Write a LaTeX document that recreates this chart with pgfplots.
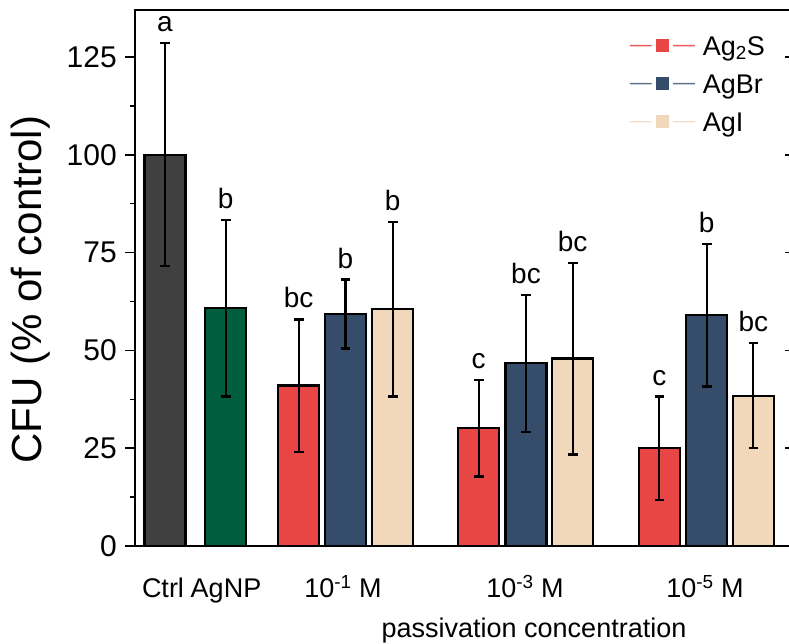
\documentclass[border=0pt]{standalone}
\usepackage{pgfplots}
\pgfplotsset{compat=1.18}
\usepackage{pgfplotstable}
\usepackage{fontspec}
\setmainfont{Liberation Sans}
\definecolor{cgray}{RGB}{64,64,64}
\definecolor{cgreen}{RGB}{0,94,62}
\definecolor{cred}{RGB}{232,69,69}
\definecolor{cnavy}{RGB}{53,77,107}
\definecolor{cbeige}{RGB}{242,216,186}
\definecolor{lred}{RGB}{236,90,90}
\definecolor{lnavy}{RGB}{95,115,140}
\definecolor{lbeige}{RGB}{244,222,198}

\pgfplotstableread{
x y e
298.7 41.0 16.9
478.7 30.1 12.3
659.3 25.0 13.2
}\agS
\pgfplotstableread{
x y e
345.5 59.3 8.8
526.0 46.7 17.5
706.7 59.0 18.2
}\agBr
\pgfplotstableread{
x y e
392.7 60.5 22.3
572.7 47.9 24.5
753.3 38.4 13.4
}\agI
\pgfplotstableread{
x y e
165.0 100.0 28.5
}\ctrl
\pgfplotstableread{
x y e
225.7 60.8 22.6
}\agnp
\pgfplotstableread{
x y lab
165.0 128.5 a
225.7 83.4 b
298.7 57.9 bc
345.5 68.1 b
392.7 82.8 b
478.7 42.4 c
526.0 64.2 bc
572.7 72.4 bc
659.3 38.2 c
706.7 77.2 b
753.3 51.8 bc
}\letters

\pgfplotsset{
  mybar/.style={ybar, bar width=41, bar shift=0pt, fill=#1, draw=black, line width=2.3bp,
    error bars/.cd, y dir=both, y explicit,
    error bar style={line width=2.3bp, black},
    error mark options={rotate=90, mark size=4.8bp, line width=2.3bp, black},
    /pgfplots/.cd},
}

\begin{document}
\begin{tikzpicture}
\useasboundingbox (0bp,0bp) rectangle (789bp,644bp);
\clip (0bp,0bp) rectangle (789bp,644bp);
\begin{axis}[
  at={(135bp,98bp)}, anchor=south west,
  scale only axis, width=659bp, height=536bp,
  xmin=135, xmax=794, ymin=0, ymax=137,
  axis line style={line width=2bp, black},
  ytick={0,25,...,125}, minor y tick num=1,
  ytick pos=left, tick align=outside,
  major tick length=10bp, minor tick length=5bp,
  every tick/.append style={black, line width=1.5bp},
  xtick={163,226,343,525,705},
  xticklabels={Ctrl, AgNP, 10\textsuperscript{-1} M, 10\textsuperscript{-3} M, 10\textsuperscript{-5} M},
  x tick style={draw=none},
  xticklabel style={font=\fontsize{27bp}{30bp}\selectfont, anchor=base, inner sep=0pt, yshift=-41bp},
  yticklabel style={font=\fontsize{30bp}{32bp}\selectfont, anchor=east, inner sep=0pt, xshift=-8bp},
  /pgf/number format/assume math mode=true,
  ylabel={CFU (\% of control)},
  every axis y label/.style={at={(rel axis cs:0,0.478)}, xshift=-104bp, rotate=90, anchor=center, font=\fontsize{42bp}{46bp}\selectfont},
  xlabel={passivation concentration},
  every axis x label/.style={at={(rel axis cs:0.6055,0)}, anchor=base, yshift=-91bp, font=\fontsize{27bp}{30bp}\selectfont},
  legend style={draw=none, fill=none, inner sep=0pt, outer sep=0pt, row sep=18bp, column sep=8bp,
    nodes={inner sep=0pt, anchor=base west}, font=\fontsize{27bp}{30bp}\selectfont,
    at={(rel axis cs:0.751,0.951)}, anchor=north west},
  legend cell align=left,
]
\addlegendimage{legend image code/.code={
    \path[fill=lred, draw=none] (0bp,8.8bp) rectangle (21.7bp,10.2bp) (43.3bp,8.8bp) rectangle (65bp,10.2bp);
    \path[fill=cred, draw=none] (26bp,2.9bp) rectangle (39.3bp,16.1bp);}}
\addlegendentry{Ag\textsubscript{2}S}
\addlegendimage{legend image code/.code={
    \path[fill=lnavy, draw=none] (0bp,8.8bp) rectangle (21.7bp,10.2bp) (43.3bp,8.8bp) rectangle (65bp,10.2bp);
    \path[fill=cnavy, draw=none] (26bp,2.9bp) rectangle (39.3bp,16.1bp);}}
\addlegendentry{AgBr}
\addlegendimage{legend image code/.code={
    \path[fill=lbeige, draw=none] (0bp,8.8bp) rectangle (21.7bp,10.2bp) (43.3bp,8.8bp) rectangle (65bp,10.2bp);
    \path[fill=cbeige, draw=none] (26bp,2.9bp) rectangle (39.3bp,16.1bp);}}
\addlegendentry{AgI}
\addplot[forget plot, mybar=cred] table[x=x, y=y, y error=e] {\agS};
\addplot[forget plot, mybar=cnavy] table[x=x, y=y, y error=e] {\agBr};
\addplot[forget plot, mybar=cbeige] table[x=x, y=y, y error=e] {\agI};
\addplot[forget plot, mybar=cgray] table[x=x, y=y, y error=e] {\ctrl};
\addplot[forget plot, mybar=cgreen] table[x=x, y=y, y error=e] {\agnp};
\addplot[only marks, mark=none, forget plot, nodes near coords, point meta=explicit symbolic,
  nodes near coords style={anchor=base, yshift=11.5bp, inner sep=0pt, font=\fontsize{28bp}{30bp}\selectfont}]
  table[x=x, y=y, meta=lab] {\letters};
\end{axis}
\begin{axis}[
  at={(135bp,98bp)}, anchor=south west,
  scale only axis, width=659bp, height=536bp,
  xmin=135, xmax=794, ymin=0, ymax=137,
  axis x line=none, axis y line*=right,
  axis line style={line width=2bp, black},
  ytick={25,50,...,125}, yticklabels={},
  tick align=inside, major tick length=9bp,
  every tick/.append style={black, line width=1.5bp},
]
\end{axis}
\end{tikzpicture}
\end{document}
